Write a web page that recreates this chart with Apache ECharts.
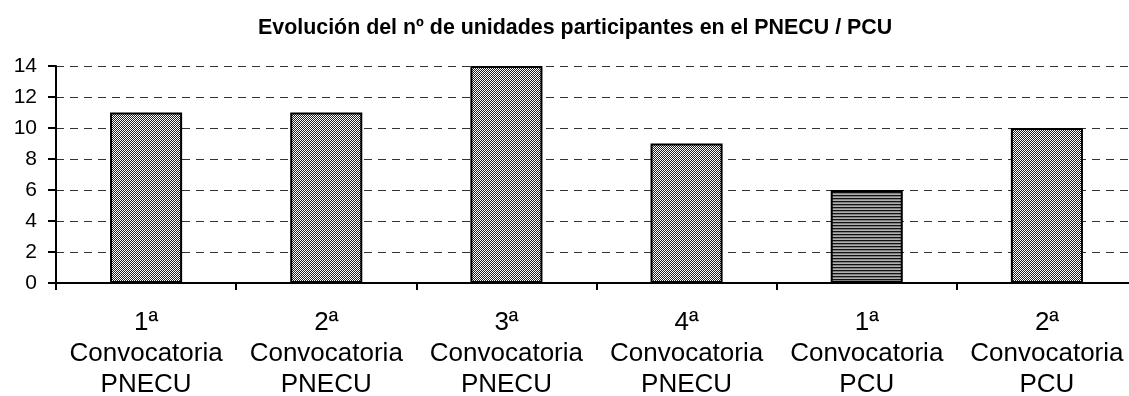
<!DOCTYPE html>
<html><head><meta charset="utf-8">
<script src="https://cdn.jsdelivr.net/npm/echarts@6/dist/echarts.min.js"></script>
<style>html,body{margin:0;padding:0;background:#fff}#c{width:1129px;height:396px}</style>
</head><body><div id="c"></div>
<script>
const titleText = "Evolución del nº de unidades participantes en el PNECU / PCU";
const categories = ["1ª\nConvocatoria\nPNECU","2ª\nConvocatoria\nPNECU","3ª\nConvocatoria\nPNECU","4ª\nConvocatoria\nPNECU","1ª\nConvocatoria\nPCU","2ª\nConvocatoria\nPCU"];
const values = [11, 11, 14, 9, 6, 10];
const patternKinds = ["diag","diag","diag","diag","horiz","diag"];

function makeDiag(){
  const c=document.createElement('canvas'); c.width=4; c.height=4;
  const g=c.getContext('2d'); g.fillStyle='#fff'; g.fillRect(0,0,4,4);
  g.fillStyle='#222';
  for(let i=0;i<4;i++){ g.fillRect(i,3-i,1,1); g.fillRect((i+2)%4,3-i,1,1); }
  g.fillStyle='#fff';
  for(let i=0;i<4;i++){ g.fillRect((i+1)%4,3-i,1,1); }
  return c;
}
function makeHoriz(){
  const c=document.createElement('canvas'); c.width=4; c.height=3;
  const g=c.getContext('2d'); g.fillStyle='#808080'; g.fillRect(0,0,4,3);
  g.fillStyle='#111'; g.fillRect(0,0,4,1);
  g.fillStyle='#b0b0b0'; g.fillRect(0,2,4,1);
  return c;
}
const pats={diag:makeDiag(),horiz:makeHoriz()};

const chart=echarts.init(document.getElementById('c'),null,{renderer:'canvas'});
chart.setOption({
  animation:false,
  title:{text:titleText,left:253,top:13,textStyle:{fontFamily:'Liberation Sans, Arial',fontWeight:'bold',fontSize:21.4,color:'#000'}},
  grid:{left:56,width:1081,top:66,bottom:113,containLabel:false,outerBoundsMode:'none'},
  xAxis:{type:'category',data:categories,
    axisLine:{lineStyle:{color:'#000',width:2}},
    axisTick:{show:true,length:7,lineStyle:{color:'#000',width:2},alignWithLabel:false},
    axisLabel:{color:'#000',fontFamily:'Liberation Sans, Arial',fontSize:26,lineHeight:31,margin:24,interval:0}},
  yAxis:{type:'value',min:0,max:14,interval:2,
    axisLine:{show:true,lineStyle:{color:'#000',width:2}},
    axisTick:{show:true,length:8,lineStyle:{color:'#000',width:2}},
    axisLabel:{color:'#000',fontFamily:'Liberation Sans, Arial',fontSize:21,margin:19},
    splitLine:{show:true,lineStyle:{color:'#333',width:1,type:[8,6]}}},
  series:[{type:'bar',barWidth:'40%',
    data:values.map((v,i)=>({value:v,itemStyle:{color:{image:pats[patternKinds[i]],repeat:'repeat'}}})),
    itemStyle:{borderColor:'#000',borderWidth:2}}]
});
</script></body></html>
